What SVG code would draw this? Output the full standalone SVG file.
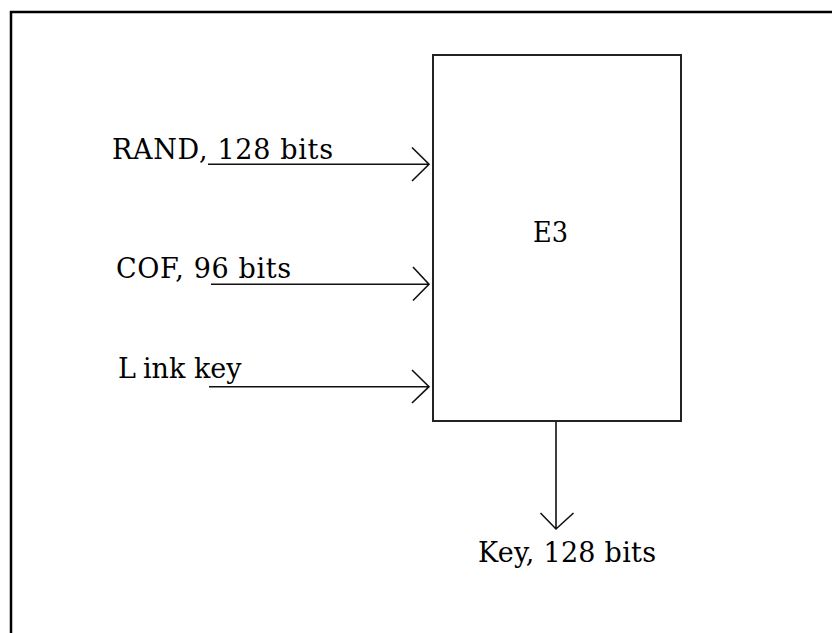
<svg xmlns="http://www.w3.org/2000/svg" width="832" height="633" viewBox="0 0 832 633">
<style>
.frame{fill:none;stroke:#000;stroke-width:2.5}
.box{fill:#fff;stroke:#222;stroke-width:2}
.conn{fill:none;stroke:#111;stroke-width:1.6}
.lbl{font-family:"DejaVu Serif","Liberation Serif",serif;font-size:27px;fill:#000}
</style>
<rect width="832" height="633" fill="#fff"/>
<path class="frame" d="M11,633 V12 H832"/>
<g id="E3">
<rect class="box" x="433" y="55" width="248" height="366"/>
<text class="lbl" x="533" y="241.5" textLength="35" lengthAdjust="spacingAndGlyphs">E3</text>
</g>
<g id="in-rand">
<text class="lbl" x="112" y="158.5" textLength="221" lengthAdjust="spacing">RAND, 128 bits</text>
</g>
<g id="in-cof">
<text class="lbl" x="116" y="277.5" textLength="175" lengthAdjust="spacing">COF, 96 bits</text>
</g>
<g id="in-linkkey">
<text class="lbl" x="118" y="377.5">L<tspan dx="7">ink key</tspan></text>
</g>
<g id="out-key">
<text class="lbl" x="478" y="561.5" textLength="178" lengthAdjust="spacing">Key, 128 bits</text>
</g>
<g id="connectors">
<path class="conn" d="M208,164.3 H429 M412,147.5 L429,164.3 L412,181"/>
<path class="conn" d="M211,284.3 H429 M413,267 L429,284.3 L413,300.5"/>
<path class="conn" d="M209,386.7 H429 M412,370 L429,386.7 L412,403"/>
<path class="conn" d="M556,422 V529 M540.5,513 L556,529 L573.5,513"/>
</g>
</svg>
